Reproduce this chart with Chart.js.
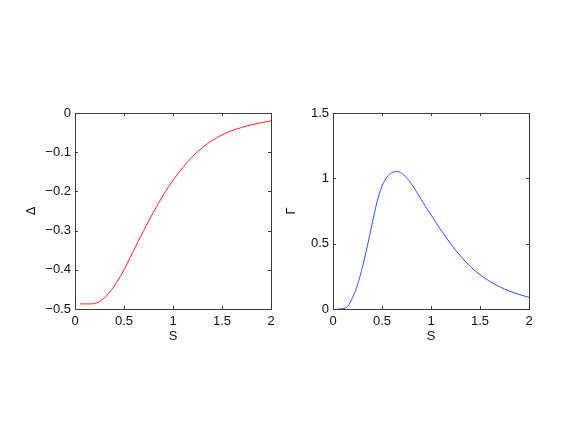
<!DOCTYPE html>
<html>
<head>
<meta charset="utf-8">
<script src="https://cdn.jsdelivr.net/npm/chart.js@4/dist/chart.umd.min.js"></script>
<style>
    html, body { margin: 0; padding: 0; background: #fff; }
    #wrap { position: relative; width: 584px; height: 439px; }
    #wrap canvas { position: absolute; left: 0; top: 0; }
</style>
</head>
<body>
<div id="wrap">
    <canvas id="chartDelta" width="584" height="439"></canvas>
    <canvas id="chartGamma" width="584" height="439"></canvas>
</div>
<script>
// valores
const sValues = [0.05, 0.1, 0.15, 0.2, 0.25, 0.3, 0.35, 0.4, 0.45, 0.5,
    0.55, 0.6, 0.65, 0.7, 0.75, 0.8, 0.85, 0.9, 0.95, 1.0,
    1.1, 1.2, 1.3, 1.4, 1.5, 1.6, 1.7, 1.8, 1.9, 2.0];
const deltaValues = [-0.487, -0.487, -0.487, -0.486, -0.481, -0.472, -0.458, -0.442, -0.422, -0.400,
    -0.375, -0.350, -0.325, -0.300, -0.276, -0.253, -0.231, -0.210, -0.190, -0.172,
    -0.139, -0.111, -0.088, -0.070, -0.056, -0.045, -0.037, -0.030, -0.025, -0.020];
const gammaValues = [0, 0.002, 0.02, 0.088, 0.185, 0.32, 0.48, 0.655, 0.822, 0.94,
    1.008, 1.043, 1.053, 1.04, 1.005, 0.958, 0.90, 0.838, 0.778, 0.72,
    0.606, 0.500, 0.406, 0.326, 0.262, 0.211, 0.170, 0.137, 0.111, 0.089];
const xTicks = [0, 0.5, 1, 1.5, 2];
const deltaTicks = [-0.5, -0.4, -0.3, -0.2, -0.1, 0];
const gammaTicks = [0, 0.5, 1, 1.5];

Chart.defaults.font.family = '"Liberation Sans", Arial, Helvetica, sans-serif';
Chart.defaults.font.size = 13;
Chart.defaults.color = '#111';

const fmt = v => {
    let n = Number(Number(v).toFixed(2));
    if (n === 0) return '0';
    return String(n).replace('-', '\u2212');
};

// caja tipo matlab con ticks hacia adentro
const boxPlugin = {
    id: 'boxPlugin',
    afterDraw(chart) {
        const ctx = chart.ctx;
        const { left, right, top, bottom } = chart.chartArea;
        const len = 3;
        ctx.save();
        ctx.strokeStyle = '#3a3a3a';
        ctx.lineWidth = 1;
        ctx.strokeRect(Math.round(left) + 0.5, Math.round(top) + 0.5,
            Math.round(right - left), Math.round(bottom - top));
        ctx.beginPath();
        chart.scales.x.ticks.forEach(t => {
            const px = Math.round(chart.scales.x.getPixelForValue(t.value)) + 0.5;
            ctx.moveTo(px, bottom); ctx.lineTo(px, bottom - len);
            ctx.moveTo(px, top); ctx.lineTo(px, top + len);
        });
        chart.scales.y.ticks.forEach(t => {
            const py = Math.round(chart.scales.y.getPixelForValue(t.value)) + 0.5;
            ctx.moveTo(left, py); ctx.lineTo(left + len, py);
            ctx.moveTo(right, py); ctx.lineTo(right - len, py);
        });
        ctx.stroke();
        ctx.restore();
    }
};

function makeChart(id, values, color, yTicks, yTitle, pad, yWidth) {
    return new Chart(document.getElementById(id), {
        type: 'line',
        data: {
            datasets: [{
                data: sValues.map((s, i) => ({ x: s, y: values[i] })),
                borderColor: color,
                borderWidth: 1,
                pointRadius: 0,
                cubicInterpolationMode: 'monotone',
                fill: false
            }]
        },
        options: {
            responsive: false,
            animation: false,
            events: [],
            layout: { padding: pad },
            plugins: { legend: { display: false }, tooltip: { enabled: false } },
            scales: {
                x: {
                    type: 'linear',
                    min: xTicks[0],
                    max: xTicks[xTicks.length - 1],
                    afterBuildTicks: s => { s.ticks = xTicks.map(v => ({ value: v })); },
                    ticks: { callback: fmt, padding: 5, maxRotation: 0 },
                    grid: { display: false, drawTicks: false },
                    border: { display: false },
                    title: { display: true, text: 'S', padding: { top: 4, bottom: 4 } },
                    afterFit: s => { s.height = 39; }
                },
                y: {
                    type: 'linear',
                    min: yTicks[0],
                    max: yTicks[yTicks.length - 1],
                    afterBuildTicks: s => { s.ticks = yTicks.map(v => ({ value: v })); },
                    ticks: { callback: fmt, padding: 4 },
                    grid: { display: false, drawTicks: false },
                    border: { display: false },
                    title: { display: true, text: yTitle, padding: { top: 4, bottom: 4 } },
                    afterFit: s => { s.width = yWidth; }
                }
            }
        },
        plugins: [boxPlugin]
    });
}

var chartDelta = makeChart('chartDelta', deltaValues, '#ff2424', deltaTicks, '\u0394',
    { left: 20, right: 313, top: 113, bottom: 91 }, 55);
var chartGamma = makeChart('chartGamma', gammaValues, '#3050ff', gammaTicks, '\u0393',
    { left: 280, right: 55, top: 113, bottom: 91 }, 53);
</script>
</body>
</html>
